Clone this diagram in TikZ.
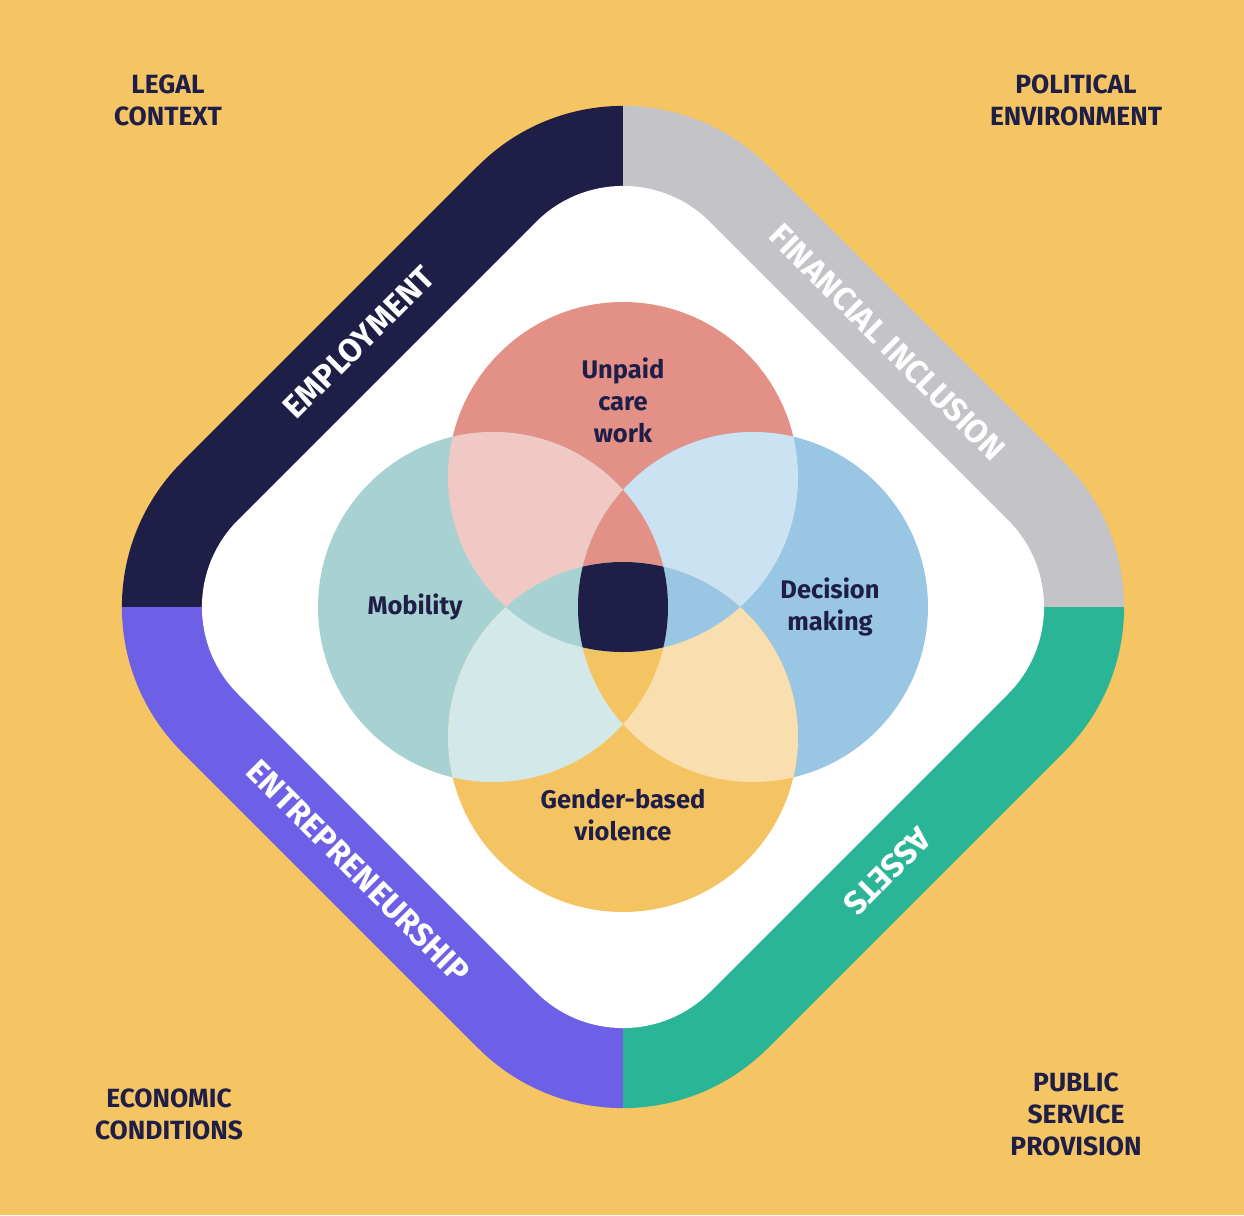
\documentclass[tikz,border=0pt]{standalone}
\usepackage{fontspec}
\setmainfont{Fira Sans}
\usepackage{tikz}
\usetikzlibrary{positioning}

\definecolor{Backdrop}{HTML}{F5C463}
\definecolor{Navy}{HTML}{1F1E46}
\definecolor{BandGray}{HTML}{C4C3C8}
\definecolor{BandPurple}{HTML}{6E60E6}
\definecolor{BandGreen}{HTML}{2AB597}
\definecolor{CareRed}{HTML}{E39187}
\definecolor{MobTeal}{HTML}{A8D2D2}
\definecolor{DecBlue}{HTML}{98C6E3}
\definecolor{ViolOrange}{HTML}{F5C462}
\definecolor{CareMob}{HTML}{F0C8C4}
\definecolor{CareDec}{HTML}{CAE2F1}
\definecolor{MobViol}{HTML}{D3E8E9}
\definecolor{DecViol}{HTML}{F9DFAF}

\tikzset{
	cornerlabel/.style={text=Navy, align=center, font=\bfseries\fontsize{15}{18.2}\selectfont},
	circlelabel/.style={text=Navy, align=center, font=\bfseries\fontsize{14.5}{18.2}\selectfont},
	bandlabel/.style={text=white, inner sep=0pt, font=\bfseries\fontsize{18.5}{20}\selectfont},
}

\newcommand{\Rvenn}{175}

\begin{document}
\begin{tikzpicture}[x=0.02cm, y=0.02cm]

		% ---------------------
		% Canvas
		\fill[Backdrop] (-623,-608) rectangle (621,607);
		\useasboundingbox (-623,-608) rectangle (621,607);
		
		\coordinate (Centre) at (0,0);
		
		% ---------------------
		% Outer bands
		\begin{scope}
			\clip[rounded corners=4.1cm] (293,293) -- (586,0) -- (0,-586) -- (-586,0) -- (0,586) -- cycle;
			\fill[Navy]       (Centre) rectangle (-600, 600);
			\fill[BandGray]   (Centre) rectangle ( 600, 600);
			\fill[BandPurple] (Centre) rectangle (-600,-600);
			\fill[BandGreen]  (Centre) rectangle ( 600,-600);
		\end{scope}
		\fill[white, rounded corners=2.46cm] (236,236) -- (472,0) -- (0,-472) -- (-472,0) -- (0,472) -- cycle;
		
		% ---------------------
		% Circle centres
		\path (Centre) +(0, 130) coordinate (Care);
		\path (Centre) +(-130,0) coordinate (Mob);
		\path (Centre) +(130, 0) coordinate (Dec);
		\path (Centre) +(0,-130) coordinate (Viol);
		
		\fill[CareRed]    (Care) circle [radius=\Rvenn];
		\fill[MobTeal]    (Mob)  circle [radius=\Rvenn];
		\fill[DecBlue]    (Dec)  circle [radius=\Rvenn];
		\fill[ViolOrange] (Viol) circle [radius=\Rvenn];
		
		% ------------------------------------------------
		% Overlaps of two
		\begin{scope}
			\clip (Care) circle [radius=\Rvenn];
			\fill[CareMob] (Mob) circle [radius=\Rvenn];
			\fill[CareDec] (Dec) circle [radius=\Rvenn];
		\end{scope}
		\begin{scope}
			\clip (Viol) circle [radius=\Rvenn];
			\fill[MobViol] (Mob) circle [radius=\Rvenn];
			\fill[DecViol] (Dec) circle [radius=\Rvenn];
		\end{scope}
		
		% ------------------------------------------------
		% Overlaps of three and four
		\begin{scope}
			\clip (Mob) circle [radius=\Rvenn];
			\clip (Dec) circle [radius=\Rvenn];
			\fill[CareRed]    (Care) circle [radius=\Rvenn];
			\fill[ViolOrange] (Viol) circle [radius=\Rvenn];
		\end{scope}
		\begin{scope}
			\clip (Care) circle [radius=\Rvenn];
			\clip (Viol) circle [radius=\Rvenn];
			\fill[MobTeal] (Mob) circle [radius=\Rvenn];
			\fill[DecBlue] (Dec) circle [radius=\Rvenn];
			\clip (Mob) circle [radius=\Rvenn];
			\fill[Navy] (Dec) circle [radius=\Rvenn];
		\end{scope}
		
		% ------------------------------------------------
		% Circle texts
		\node[circlelabel] (CareText) at (0, 206.5) {Unpaid\\care\\work};
		\node[circlelabel] (MobText)  at (-208, 0)  {Mobility};
		\node[circlelabel] (DecText)  at (207, 0)   {Decision\\making};
		\node[circlelabel] (ViolText) at (0,-208.5) {Gender-based\\violence};
		
		% ------------------------------------------------
		% Band texts
		\node[bandlabel, rotate=45]  (EmpText)    at (-264.5, 264.5) {EMPLOYMENT};
		\node[bandlabel, rotate=-45] (FinText)    at ( 264.5, 264.5) {FINANCIAL INCLUSION};
		\node[bandlabel, rotate=-45] (EntText)    at (-264.5,-264.5) {ENTREPRENEURSHIP};
		\node[bandlabel, rotate=225] (AssetsText) at ( 264.5,-264.5) {ASSETS};
		
		% ------------------------------------------------
		% Corner texts
		\node[cornerlabel] (Legal)     at (-455, 506.5) {LEGAL\\CONTEXT};
		\node[cornerlabel] (Political) at ( 453, 506.5) {POLITICAL\\ENVIRONMENT};
		\node[cornerlabel] (Economic)  at (-454,-507.5) {ECONOMIC\\CONDITIONS};
		\node[cornerlabel] (Public)    at ( 453,-507.5) {PUBLIC\\SERVICE\\PROVISION};

\end{tikzpicture}
\end{document}
